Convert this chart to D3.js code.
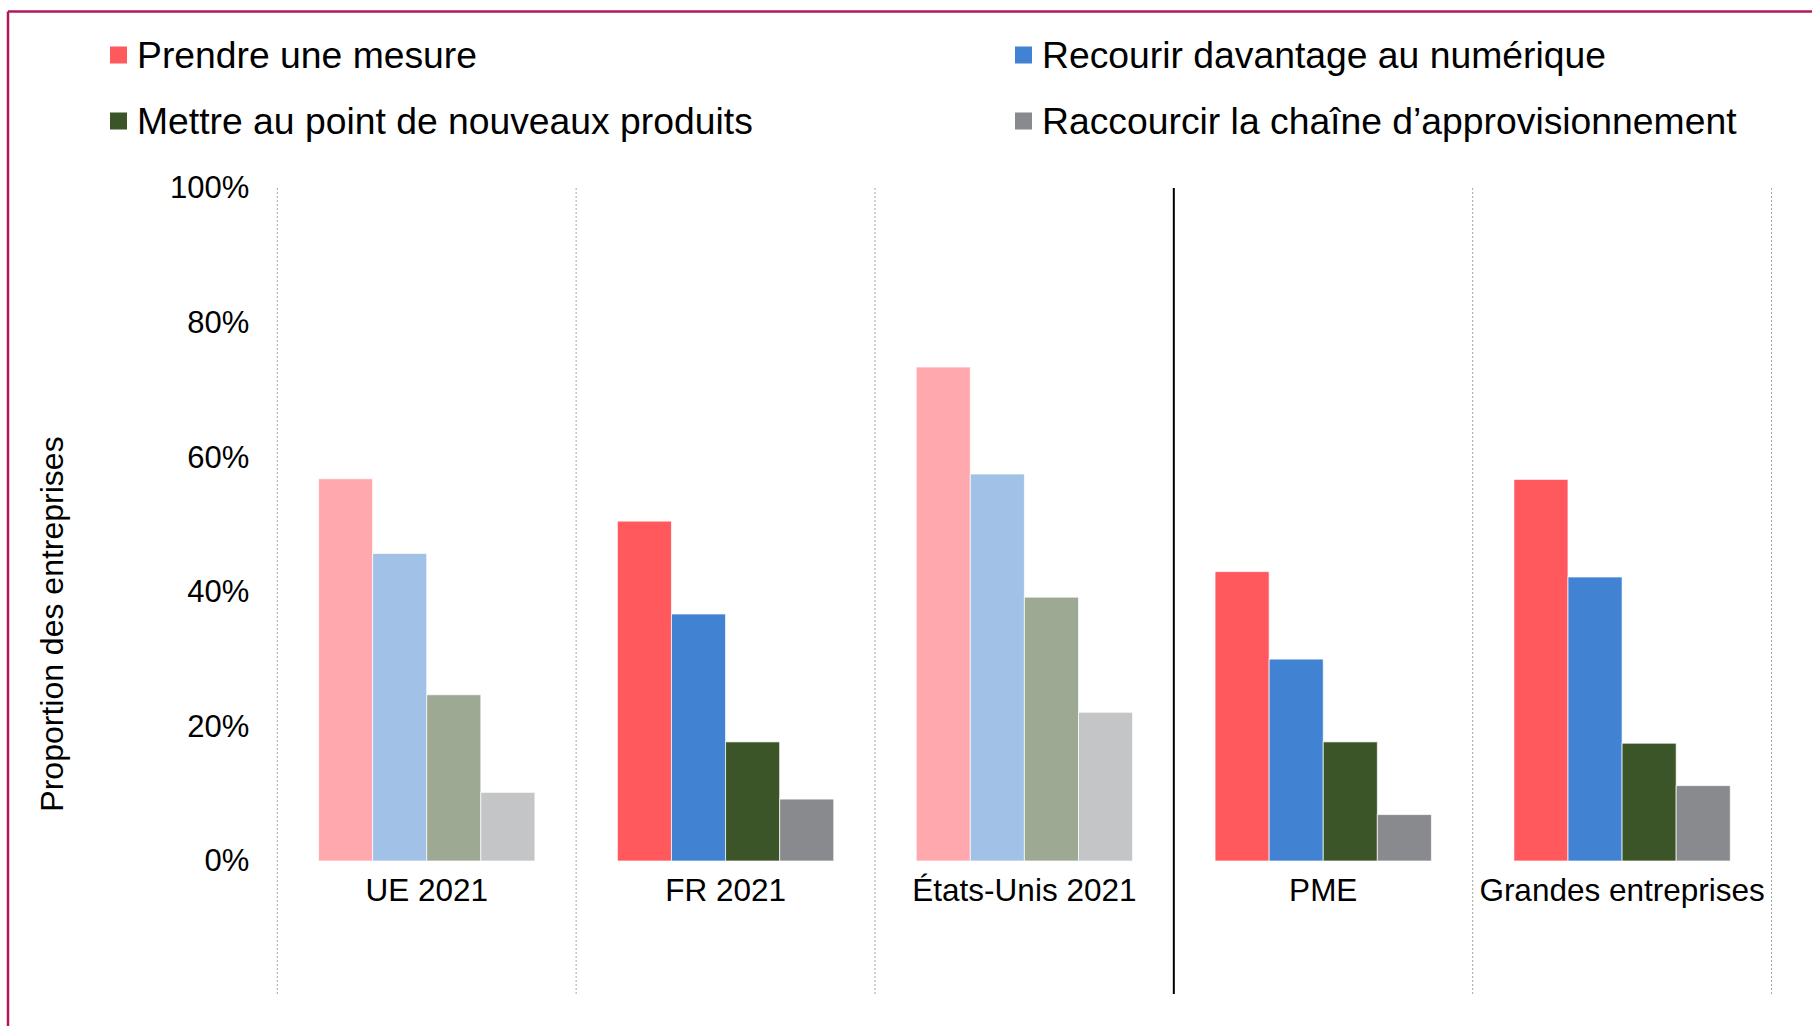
<!DOCTYPE html>
<html><head><meta charset="utf-8">
<script src="https://cdn.jsdelivr.net/npm/d3@7"></script>
<style>
html,body{margin:0;padding:0;background:#fff;}
svg{display:block;font-family:"Liberation Sans",Arial,sans-serif;}
</style></head>
<body>
<svg id="chart" width="1812" height="1026"></svg>
<script>
const categories = ["UE 2021", "FR 2021", "États-Unis 2021", "PME", "Grandes entreprises"];
const series = ["Prendre une mesure", "Recourir davantage au numérique", "Mettre au point de nouveaux produits", "Raccourcir la chaîne d’approvisionnement"];
const prendreMesure = [56.8, 50.5, 73.4, 43.0, 56.7];
const numerique = [45.7, 36.7, 57.5, 30.0, 42.2];
const nouveauxProduits = [24.7, 17.7, 39.2, 17.7, 17.5];
const chaineAppro = [10.2, 9.2, 22.1, 6.9, 11.2];
const fadedCategories = ["UE 2021", "États-Unis 2021"];
const yTicks = [0, 20, 40, 60, 80, 100];
const yTitle = "Proportion des entreprises";

const colors = ["#FF595E", "#4182D3", "#3B5428", "#888A8D"];
const fadedColors = ["#FFA9AE", "#A2C1E7", "#9DA992", "#C4C5C7"];
const valuesBySeries = [prendreMesure, numerique, nouveauxProduits, chaineAppro];

const svg = d3.select("#chart");

// frame (top and left edges of the box)
svg.append("line").attr("x1", 8).attr("x2", 1812).attr("y1", 11.5).attr("y2", 11.5)
  .attr("stroke", "#B0185E").attr("stroke-width", 2.5);
svg.append("line").attr("x1", 8).attr("x2", 8).attr("y1", 11.5).attr("y2", 1026)
  .attr("stroke", "#B0185E").attr("stroke-width", 2.5);

const x0 = d3.scaleBand().domain(categories).range([277.3, 1771.5]).paddingInner(0).paddingOuter(0);
const bw = x0.bandwidth();
const x1 = d3.scaleBand().domain(series).range([0.138 * bw, 0.862 * bw]).padding(0);
const y = d3.scaleLinear().domain([0, 100]).range([861, 188]);

// category separators
const bounds = categories.map(c => x0(c)).concat([x0(categories[categories.length - 1]) + bw]);
bounds.forEach((bx, i) => {
  const solid = (i === 3);
  svg.append("line")
    .attr("x1", bx).attr("x2", bx).attr("y1", 188).attr("y2", 994)
    .attr("stroke", solid ? "#000" : "#A6A6A6")
    .attr("stroke-width", solid ? 2 : 1)
    .attr("stroke-dasharray", solid ? null : "2,2");
});

// y axis
const yAxis = d3.axisLeft(y).tickValues(yTicks).tickFormat(d => d + "%").tickSize(0).tickPadding(28);
const gy = svg.append("g").attr("transform", "translate(277.3,0)").call(yAxis);
gy.select(".domain").remove();
gy.selectAll("text").attr("font-size", 31).attr("fill", "#000")
  .attr("font-family", "Liberation Sans, Arial, sans-serif");

// y title
svg.append("text").attr("transform", "translate(63,624) rotate(-90)")
  .attr("text-anchor", "middle").attr("font-size", 32).attr("fill", "#000").text(yTitle);

// x axis labels
const xAxis = d3.axisBottom(x0).tickSize(0).tickPadding(0);
const gx = svg.append("g").attr("transform", "translate(0,870)").call(xAxis);
gx.select(".domain").remove();
gx.selectAll("text").attr("font-size", 31.5).attr("fill", "#000").attr("dy", "0.98em")
  .attr("font-family", "Liberation Sans, Arial, sans-serif");

// bars
const groups = svg.append("g").selectAll("g").data(categories).join("g")
  .attr("transform", c => `translate(${x0(c)},0)`);
groups.selectAll("rect")
  .data((c, ci) => series.map((s, si) => ({ c, s, si, v: valuesBySeries[si][ci] })))
  .join("rect")
  .attr("x", d => x1(d.s))
  .attr("width", x1.bandwidth())
  .attr("y", d => y(d.v))
  .attr("height", d => y(0) - y(d.v))
  .attr("fill", d => fadedCategories.includes(d.c) ? fadedColors[d.si] : colors[d.si])
  .attr("stroke", "#fff").attr("stroke-width", 1).attr("stroke-opacity", 0.7);

// legend
const legendPos = [[110, 68], [1015, 68], [110, 134], [1015, 134]];
const lg = svg.append("g").selectAll("g").data(series).join("g")
  .attr("transform", (d, i) => `translate(${legendPos[i][0]},${legendPos[i][1]})`);
lg.append("rect").attr("x", 0).attr("y", -21.5).attr("width", 17).attr("height", 17)
  .attr("fill", (d, i) => colors[i]);
lg.append("text").attr("x", 27).attr("y", 0).attr("font-size", 37.3).attr("fill", "#000").text(d => d);
</script>
</body></html>
